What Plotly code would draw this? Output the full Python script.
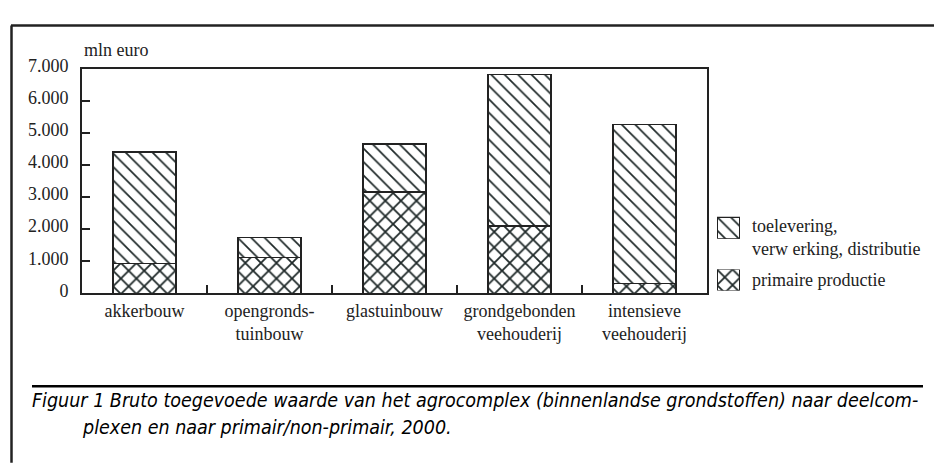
import plotly.graph_objects as go

categories = ["akkerbouw", "opengronds-<br>tuinbouw", "glastuinbouw",
              "grondgebonden<br>veehouderij", "intensieve<br>veehouderij"]
primaire = [930, 1120, 3160, 2100, 310]
totaal = [4400, 1740, 4650, 6810, 5260]
toelevering = [t - p for t, p in zip(totaal, primaire)]
y_ticks = [0, 1000, 2000, 3000, 4000, 5000, 6000, 7000]
legend_labels = ["toelevering,<br>verw erking, distributie", "primaire productie"]

W, H = 934, 465
L, R, T, B = 82, 707, 58, 293


def px(x):
    return x / W


def py(y):
    return 1 - y / H


dark = "#222222"
hatch = "#1e2828"
pat_diag = dict(shape="\\", fgcolor=hatch, bgcolor="white", fgopacity=1, size=9.5, solidity=0.18)
pat_cross = dict(shape="x", fgcolor=hatch, bgcolor="white", fgopacity=1, size=11, solidity=0.3)
bar_line = dict(color=dark, width=1.7)

fig = go.Figure()
fig.add_trace(go.Bar(
    x=categories, y=primaire, name="primaire productie", width=0.5,
    marker=dict(color="white", line=bar_line, pattern=pat_cross), showlegend=False,
))
fig.add_trace(go.Bar(
    x=categories, y=toelevering, name="toelevering, verwerking, distributie", width=0.5,
    marker=dict(color="white", line=bar_line, pattern=pat_diag), showlegend=False,
))

# legend swatches (patterned squares) on small helper axes
fig.add_trace(go.Bar(x=[0], y=[1], width=1, xaxis="x2", yaxis="y2", showlegend=False,
                     hoverinfo="skip", marker=dict(color="white", line=bar_line, pattern=pat_diag)))
fig.add_trace(go.Bar(x=[0], y=[1], width=1, xaxis="x3", yaxis="y3", showlegend=False,
                     hoverinfo="skip", marker=dict(color="white", line=bar_line, pattern=pat_cross)))

helper_axis = dict(visible=False, fixedrange=True, showgrid=False, zeroline=False)

shapes = [
    dict(type="line", xref="paper", yref="paper", x0=px(11), x1=px(940), y0=py(13), y1=py(13),
         line=dict(color=dark, width=2.5)),
    dict(type="line", xref="paper", yref="paper", x0=px(11.5), x1=px(11.5), y0=py(13), y1=py(470),
         line=dict(color=dark, width=2.5)),
    dict(type="line", xref="paper", yref="paper", x0=px(32), x1=px(923), y0=py(390), y1=py(390),
         line=dict(color="black", width=2.5)),
]

serif = dict(family="Liberation Serif, Times New Roman, serif", size=18, color=dark)
legend_font = dict(family="Liberation Serif, Times New Roman, serif", size=18, color=dark)
cap_font = dict(family="DejaVu Sans Condensed, sans-serif", size=19.5, color="black")
annotations = [
    dict(text="mln euro", xref="paper", yref="paper", x=px(82), y=py(39), xanchor="left", yanchor="middle",
         showarrow=False, font=serif),
    dict(text=legend_labels[0], xref="paper", yref="paper", x=px(750), y=py(235), xanchor="left",
         yanchor="middle", align="left", showarrow=False, font=legend_font),
    dict(text=legend_labels[1], xref="paper", yref="paper", x=px(750), y=py(279), xanchor="left",
         yanchor="middle", showarrow=False, font=legend_font),
    dict(text="<i>Figuur 1 Bruto toegevoede waarde van het agrocomplex (binnenlandse grondstoffen) naar deelcom-</i>",
         xref="paper", yref="paper", x=px(30), y=py(405), xanchor="left", yanchor="middle",
         showarrow=False, font=cap_font),
    dict(text="<i>plexen en naar primair/non-primair, 2000.</i>",
         xref="paper", yref="paper", x=px(80), y=py(433), xanchor="left", yanchor="middle",
         showarrow=False, font=cap_font),
]

fig.update_layout(
    width=W, height=H,
    margin=dict(l=0, r=0, t=0, b=0, pad=0),
    paper_bgcolor="white", plot_bgcolor="white",
    barmode="stack",
    separators=",.",
    font=serif,
    showlegend=False,
    shapes=shapes,
    annotations=annotations,
    xaxis=dict(domain=[L / W, R / W], showline=True, linecolor=dark, linewidth=2, mirror=True,
               ticks="inside", tickson="boundaries", ticklen=8, tickwidth=1.5, tickcolor=dark,
               showgrid=False, zeroline=False, fixedrange=True),
    yaxis=dict(domain=[1 - B / H, 1 - T / H], range=[0, 7000], tickvals=y_ticks, tickformat=",d",
               showline=True, linecolor=dark, linewidth=2, mirror=True, ticks="inside", ticklen=8,
               tickwidth=1.5, tickcolor=dark, showgrid=False, zeroline=False, fixedrange=True,
               ticklabelstandoff=8, ticklabelshift=-3),
    xaxis2=dict(helper_axis, domain=[px(717), px(740)], range=[-0.5, 0.5], anchor="y2"),
    yaxis2=dict(helper_axis, domain=[py(236), py(213)], range=[0, 1], anchor="x2"),
    xaxis3=dict(helper_axis, domain=[px(717), px(740)], range=[-0.5, 0.5], anchor="y3"),
    yaxis3=dict(helper_axis, domain=[py(290), py(268)], range=[0, 1], anchor="x3"),
)

fig.write_html("out.html", config={"displayModeBar": False},
               post_script="document.body.style.margin='0';document.body.style.padding='0';")
